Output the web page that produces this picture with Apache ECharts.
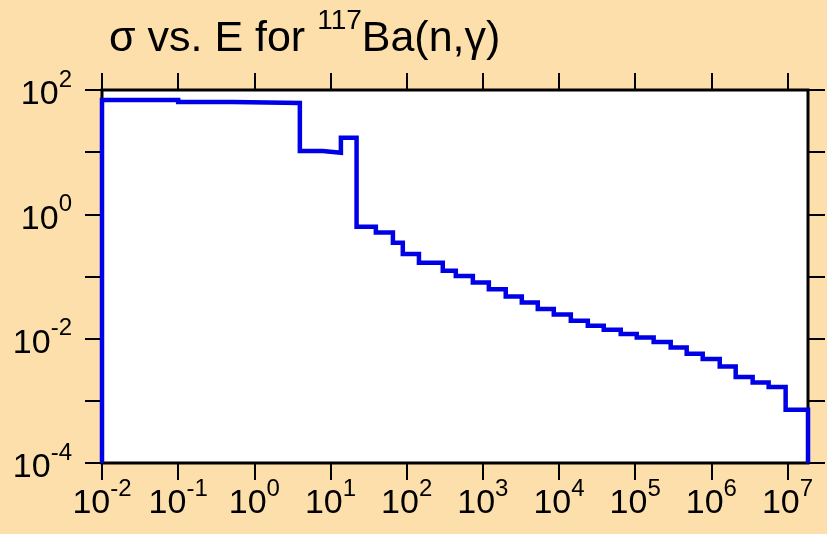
<!DOCTYPE html>
<html><head><meta charset="utf-8">
<script src="https://cdn.jsdelivr.net/npm/echarts@6/dist/echarts.min.js"></script>
<style>html,body{margin:0;padding:0;background:#fddfab;}#c{width:827px;height:534px;}</style>
</head><body><div id="c"></div>
<script>
// Energy bin edges (eV) and cross sections (b) per bin
var edges = [0.01, 0.1, 0.52, 3.96, 7.9, 13.7, 22, 39.4, 66, 89, 145, 298, 442, 740, 1200, 2000, 3250, 5270, 8550, 14300, 23900, 38700, 64700, 105000, 175000, 293000, 475000, 771000, 1.29e6, 2.09e6, 3.49e6, 5.66e6, 9.46e6, 1.86e7];
var sigma = [69, 64, 62, 10.4, 9.8, 17, 0.63, 0.51, 0.35, 0.23, 0.167, 0.124, 0.102, 0.080, 0.0625, 0.0476, 0.0382, 0.0299, 0.0245, 0.0195, 0.0161, 0.0139, 0.0119, 0.0104, 0.0088, 0.0072, 0.0057, 0.0047, 0.00357, 0.00241, 0.00198, 0.00167, 0.00072];
var xTicks = [1e-2, 1e-1, 1, 10, 100, 1e3, 1e4, 1e5, 1e6, 1e7];
var yTicks = [1e-4, 1e-3, 1e-2, 1e-1, 1, 10, 100];
var yLabelTicks = [1e-4, 1e-2, 1, 100];
var xMin = 0.01, xMax = 1.86e7, yMin = 1e-4, yMax = 100;

var pts = [[edges[0], yMin]];
for (var i = 0; i < sigma.length; i++) pts.push([edges[i], sigma[i]]);
pts.push([edges[edges.length - 1], sigma[sigma.length - 1]]);
pts.push([edges[edges.length - 1], yMin]);

var FONT = '"Liberation Sans", Arial, sans-serif';
function expLabel(v) {
  var e = Math.round(Math.log10(v));
  return '{b|10}{s|' + e + '}';
}
var rich = {
  b: {fontFamily: FONT, fontSize: 34, color: '#000', verticalAlign: 'bottom', lineHeight: 44},
  s: {fontFamily: FONT, fontSize: 24, color: '#000', verticalAlign: 'top', lineHeight: 44}
};
var tickStyle = {lineStyle: {color: '#000', width: 2}, length: 17, inside: false};

var chart = echarts.init(document.getElementById('c'), null, {renderer: 'canvas'});
chart.setOption({
  backgroundColor: '#fddfab',
  animation: false,
  title: {
    left: 104, top: 2,
    text: '{a|σ vs. E for }{s|117}{a|Ba(n,γ)}',
    textStyle: {
      fontWeight: 'normal',
      rich: {
        a: {fontFamily: FONT, fontSize: 43, fontWeight: 'normal', color: '#000', verticalAlign: 'bottom', lineHeight: 54},
        s: {fontFamily: FONT, fontSize: 28, fontWeight: 'normal', color: '#000', verticalAlign: 'top', lineHeight: 54}
      }
    }
  },
  grid: {left: 102, top: 90, right: 19, bottom: 71, show: true, backgroundColor: '#fff', borderColor: '#000', borderWidth: 3},
  xAxis: [
    {type: 'log', logBase: 10, min: xMin, max: xMax, position: 'bottom',
     axisLine: {show: false}, splitLine: {show: false},
     axisTick: Object.assign({customValues: xTicks}, tickStyle),
     axisLabel: {customValues: xTicks, margin: 14, formatter: expLabel, rich: rich}},
    {type: 'log', logBase: 10, min: xMin, max: xMax, position: 'top',
     axisLine: {show: false}, splitLine: {show: false},
     axisTick: Object.assign({customValues: xTicks}, tickStyle),
     axisLabel: {show: false}}
  ],
  yAxis: [
    {type: 'log', logBase: 10, min: yMin, max: yMax, position: 'left',
     axisLine: {show: false}, splitLine: {show: false}, minorTick: {show: false},
     axisTick: Object.assign({customValues: yTicks}, tickStyle),
     axisLabel: {customValues: yLabelTicks, margin: 30, formatter: expLabel, rich: rich}},
    {type: 'log', logBase: 10, min: yMin, max: yMax, position: 'right',
     axisLine: {show: false}, splitLine: {show: false},
     axisTick: Object.assign({customValues: yTicks}, tickStyle),
     axisLabel: {show: false}}
  ],
  series: [{
    type: 'line', step: 'end', xAxisIndex: 0, yAxisIndex: 0,
    data: pts, showSymbol: false, symbol: 'none',
    lineStyle: {color: '#0000e6', width: 4.5, join: 'miter'},
    clip: false, z: 3
  }]
});
</script></body></html>
